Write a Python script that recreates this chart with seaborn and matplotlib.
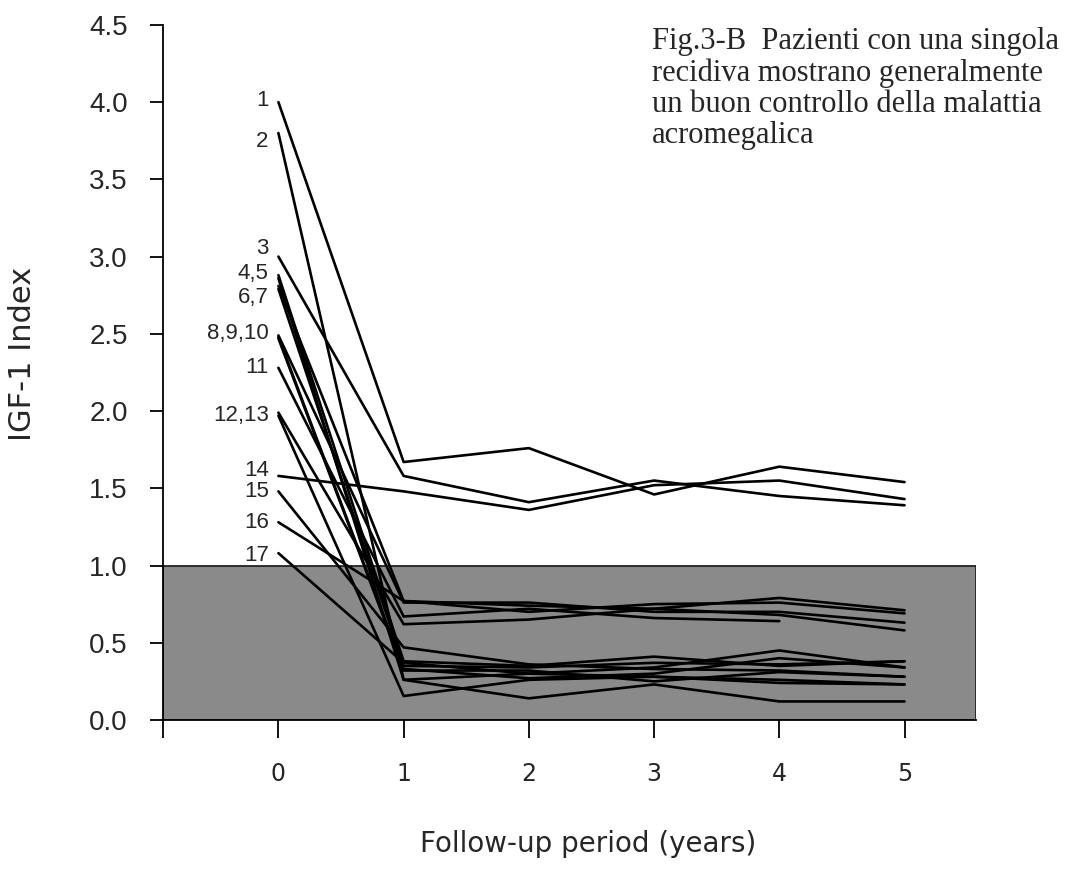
import matplotlib.pyplot as plt
import pandas as pd
import seaborn as sns

# follow-up years and IGF-1 index per patient
years = [0, 1, 2, 3, 4, 5]
p01 = [4.00, 1.67, 1.76, 1.46, 1.64, 1.54]
p02 = [3.80, 0.26, 0.30, 0.28, 0.26, 0.23]
p03 = [3.00, 1.58, 1.41, 1.55, 1.45, 1.39]
p04 = [2.88, 0.38, 0.35, 0.41, 0.35, 0.38]
p05 = [2.86, 0.26, 0.14, 0.23, 0.12, 0.12]
p06 = [2.81, 0.77, 0.70, 0.75, 0.76, 0.69]
p07 = [2.79, 0.35, 0.34, 0.37, 0.36, 0.38]
p08 = [2.49, 0.76, 0.76, 0.70, 0.70, 0.63]
p09 = [2.48, 0.33, 0.27, 0.30, 0.40, 0.34]
p10 = [2.47, 0.32, 0.32, 0.25, 0.31, 0.28]
p11 = [2.28, 0.67, 0.72, 0.66, 0.64, None]
p12 = [1.99, 0.62, 0.65, 0.72, 0.68, 0.58]
p13 = [1.97, 0.155, 0.26, 0.28, 0.24, 0.23]
p14 = [1.58, 1.48, 1.36, 1.52, 1.55, 1.43]
p15 = [1.48, 0.47, 0.36, 0.33, 0.32, 0.28]
p16 = [1.28, 0.77, 0.74, 0.72, 0.79, 0.71]
p17 = [1.08, 0.37, 0.30, 0.34, 0.45, 0.34]
series = [p01, p02, p03, p04, p05, p06, p07, p08, p09, p10,
          p11, p12, p13, p14, p15, p16, p17]

# patient labels at year 0 and the patient whose start value they sit next to
label_text = ["1", "2", "3", "4,5", "6,7", "8,9,10", "11", "12,13",
              "14", "15", "16", "17"]
label_patient = [1, 2, 3, 4, 6, 8, 11, 12, 14, 15, 16, 17]
label_dy = [1, -6, 6, 1, -8, 1, 0, -2, 4, 0, 0, -2]

normal_range = (0.0, 1.0)

title = ("Fig.3-B  Pazienti con una singola\n"
         "recidiva mostrano generalmente\n"
         "un buon controllo della malattia\n"
         "acromegalica")

rows = []
for i, vals in enumerate(series):
    for yr, v in zip(years, vals):
        if v is not None:
            rows.append({"patient": i + 1, "year": yr, "igf": v})
df = pd.DataFrame(rows)

sns.set_style("ticks")
plt.rcParams["font.family"] = ["Liberation Sans", "DejaVu Sans"]

fig = plt.figure(figsize=(10.88, 8.71), dpi=100)
ax = fig.add_axes([0.150, 0.1734, 0.747, 0.798])

# grey band for the normal range
ax.axhspan(normal_range[0], normal_range[1], facecolor="#8a8a8a",
           edgecolor="#222222", lw=1.3, zorder=0)

sns.lineplot(data=df, x="year", y="igf", units="patient", estimator=None,
             color="black", lw=1.9, ax=ax, zorder=3, legend=False)

for txt, pid, dy in zip(label_text, label_patient, label_dy):
    ax.annotate(txt, xy=(0, series[pid - 1][0]), xytext=(-7, dy),
                textcoords="offset points", ha="right", va="center",
                fontsize=16)

ax.set_xlim(-0.92, 5.57)
ax.set_ylim(0, 4.5)
ax.set_xticks([-0.92] + years)
ax.set_xticklabels([""] + [str(y) for y in years])
ax.set_yticks([i * 0.5 for i in range(10)])
ax.set_yticklabels([f"{i * 0.5:.1f}" for i in range(10)])
ax.tick_params(axis="y", length=9.5, width=1.3, pad=16, labelsize=20,
               color="black")
ax.tick_params(axis="x", length=13, width=1.3, pad=17, labelsize=17,
               color="black")
for lbl in ax.get_xticklabels():
    lbl.set_family("DejaVu Sans")
ax.set_xlabel("")
ax.set_ylabel("")
for side in ["top", "right"]:
    ax.spines[side].set_visible(False)
for side in ["left", "bottom"]:
    ax.spines[side].set_linewidth(1.3)
    ax.spines[side].set_color("black")

fig.text(0.021, 0.594, "IGF-1 Index", rotation=90, ha="center",
         va="center", fontsize=22, family="DejaVu Sans")
fig.text(0.541, 0.022, "Follow-up period (years)", ha="center",
         va="baseline", fontsize=20, family="DejaVu Sans")
fig.text(0.599, 0.969, title, ha="left", va="top", fontsize=22,
         family="Liberation Serif", linespacing=1.1)

fig.savefig("out.png", dpi=100)
